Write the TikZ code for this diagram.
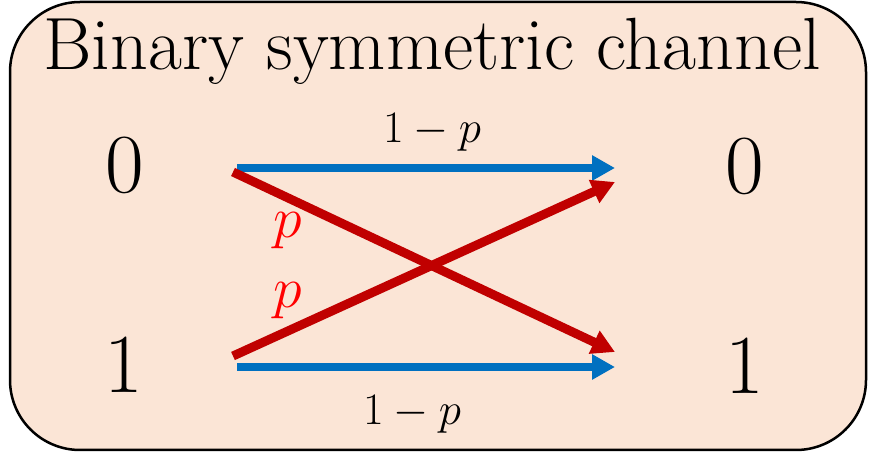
\RequirePackage{fix-cm}
\documentclass[tikz,border=0pt]{standalone}
\usetikzlibrary{arrows.meta}
\definecolor{boxfill}{HTML}{FBE5D6}
\definecolor{flowblue}{HTML}{0070C0}
\definecolor{flowred}{HTML}{C00000}
\definecolor{labred}{HTML}{FF0000}
\tikzset{
  symbol/.style={anchor=base,inner sep=0pt,font=\fontsize{84}{96}\selectfont},
  problab/.style={anchor=base,inner sep=0pt,font=\fontsize{45}{54}\selectfont},
  redlab/.style={anchor=base,inner sep=0pt,text=labred,font=\fontsize{58}{68}\selectfont},
  keep/.style={-{Triangle[length=23pt,width=24pt]},line width=8pt,flowblue},
  flip/.style={-{Triangle[length=23pt,width=24pt]},line width=9pt,flowred},
}
\begin{document}
\begin{tikzpicture}[x=1pt,y=-1pt]
\useasboundingbox (0,0) rectangle (871,454);
\draw[line width=2.5pt,fill=boxfill,rounded corners=70pt] (10,2) rectangle (866,450);
\node[anchor=base,inner sep=0pt,font=\fontsize{74}{86}\selectfont] (title) at (432,70) {Binary symmetric channel};
\node[symbol] (x0) at (125,193) {0};
\node[symbol] (x1) at (124,393) {1};
\node[symbol] (y0) at (745,194) {0};
\node[symbol] (y1) at (745,394) {1};
\coordinate (s00) at (237,168);
\coordinate (e00) at (615,168);
\coordinate (s11) at (237,367);
\coordinate (e11) at (615,367);
\coordinate (s01) at (233,172);
\coordinate (e01) at (615,352);
\coordinate (s10) at (233,356);
\coordinate (e10) at (615,182);
\draw[keep] (s00) -- (e00);
\draw[keep] (s11) -- (e11);
\draw[flip] (s01) -- (e01);
\draw[flip] (s10) -- (e10);
\node[problab] (ptop) at (432,143) {$1-p$};
\node[problab] (pbot) at (412,425) {$1-p$};
\node[redlab] (pa) at (288,238) {$p$};
\node[redlab] (pb) at (288,308) {$p$};
\end{tikzpicture}
\end{document}
